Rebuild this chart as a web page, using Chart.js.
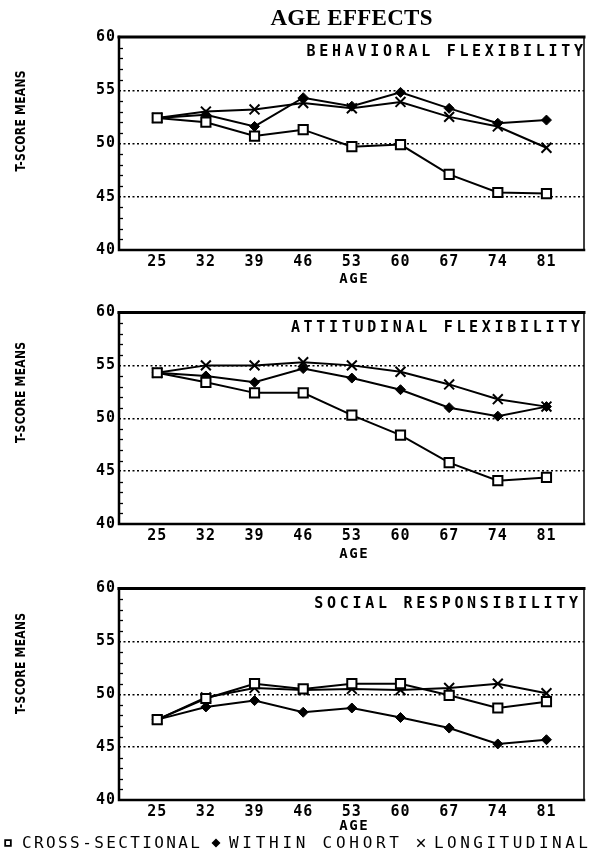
<!DOCTYPE html>
<html><head><meta charset="utf-8">
<script src="https://cdn.jsdelivr.net/npm/chart.js@4.4.1/dist/chart.umd.min.js"></script>
<style>
html,body{margin:0;padding:0;background:#fff;}
#wrap{position:relative;width:593px;height:854px;overflow:hidden;background:#fff;}
canvas{position:absolute;left:0;}
</style></head><body>
<div id="wrap">
<canvas id="c1" width="593" height="290" style="top:0px"></canvas>
<canvas id="c2" width="593" height="270" style="top:290px"></canvas>
<canvas id="c3" width="593" height="294" style="top:560px"></canvas>
</div>
<script>
// ---- data ----
const ages = [25, 32, 39, 46, 53, 60, 67, 74, 81];
const yTicks = [40, 45, 50, 55, 60];
const gridValues = [45, 50, 55];
const seriesNames = ['CROSS-SECTIONAL', 'WITHIN COHORT', 'LONGITUDINAL'];
const panelTitles = ['BEHAVIORAL FLEXIBILITY', 'ATTITUDINAL FLEXIBILITY', 'SOCIAL RESPONSIBILITY'];
const mainTitle = 'AGE EFFECTS';
const yTitle = 'T-SCORE MEANS';
const xTitle = 'AGE';

const behavCross  = [52.4, 52.0, 50.7, 51.3, 49.7, 49.9, 47.1, 45.4, 45.3];
const behavWithin = [52.4, 52.7, 51.6, 54.3, 53.5, 54.8, 53.3, 51.9, 52.2];
const behavLong   = [52.4, 53.0, 53.2, 53.8, 53.3, 53.9, 52.5, 51.6, 49.6];

const attCross  = [54.3, 53.4, 52.4, 52.4, 50.3, 48.4, 45.8, 44.1, 44.4];
const attWithin = [54.3, 54.0, 53.4, 54.7, 53.8, 52.7, 51.0, 50.2, 51.1];
const attLong   = [54.3, 55.0, 55.0, 55.3, 55.0, 54.4, 53.2, 51.8, 51.1];

const socCross  = [47.6, 49.6, 51.0, 50.5, 51.0, 51.0, 49.9, 48.7, 49.3];
const socWithin = [47.6, 48.8, 49.4, 48.3, 48.7, 47.8, 46.8, 45.3, 45.7];
const socLong   = [47.6, 49.7, 50.6, 50.4, 50.5, 50.4, 50.6, 51.0, 50.1];

// ---- styles ----
const MONO = '"DejaVu Sans Mono", monospace';
const seriesStyles = [
  {pointStyle: 'rect', pointRadius: 6.5, pointBackgroundColor: '#fff', pointBorderWidth: 2},
  {pointStyle: 'rectRot', pointRadius: 5, pointBackgroundColor: '#000', pointBorderWidth: 1},
  {pointStyle: 'crossRot', pointRadius: 7, pointBackgroundColor: '#000', pointBorderWidth: 2}
];

function drawSpaced(ctx, text, x, y, align, spacing) {
  ctx.letterSpacing = spacing + 'px';
  let w = ctx.measureText(text).width;
  let sx = x;
  if (align === 'right') sx = x - w + spacing;
  else if (align === 'center') sx = x - (w - spacing) / 2;
  ctx.textAlign = 'left';
  ctx.fillText(text, sx, y);
  ctx.letterSpacing = '0px';
}
function drawFit(ctx, text, x, y, width) {
  ctx.letterSpacing = '0px';
  const w0 = ctx.measureText(text).width;
  const sp = (width - w0) / (text.length - 1);
  ctx.letterSpacing = sp + 'px';
  ctx.textAlign = 'left';
  ctx.fillText(text, x, y);
  ctx.letterSpacing = '0px';
}

const decoPlugin = {
  id: 'deco',
  beforeDraw(chart) {
    chart.ctx.letterSpacing = '1px';
  },
  afterDraw(chart, args, o) {
    const ctx = chart.ctx, a = chart.chartArea, ys = chart.scales.y;
    ctx.save();
    ctx.letterSpacing = '0px';
    ctx.strokeStyle = '#000';
    ctx.fillStyle = '#000';
    // minor ticks on the y axis (inside)
    ctx.lineWidth = 1.3;
    for (let v = 41; v < 60; v++) {
      if (v % 5 === 0) continue;
      const py = Math.round(ys.getPixelForValue(v)) + 0.5;
      ctx.beginPath(); ctx.moveTo(a.left, py); ctx.lineTo(a.left + 4, py); ctx.stroke();
    }
    // frame
    ctx.lineCap = 'square';
    ctx.lineWidth = 3;
    ctx.beginPath(); ctx.moveTo(a.left, a.top); ctx.lineTo(a.right, a.top); ctx.stroke();
    ctx.lineWidth = 2.5;
    ctx.beginPath(); ctx.moveTo(a.left, a.top); ctx.lineTo(a.left, a.bottom); ctx.lineTo(a.right, a.bottom); ctx.stroke();
    ctx.lineWidth = 1.5;
    ctx.beginPath(); ctx.moveTo(a.right, a.top); ctx.lineTo(a.right, a.bottom); ctx.stroke();

    // panel title
    ctx.font = 'bold 15px ' + MONO;
    ctx.textBaseline = 'alphabetic';
    drawSpaced(ctx, o.title, o.titleRight, a.top + 19, 'right', 3.7);

    // x title
    ctx.font = 'bold 14px ' + MONO;
    ctx.textBaseline = 'middle';
    drawSpaced(ctx, xTitle, (a.left + a.right) / 2 + 2, a.bottom + o.ageOffset, 'center', 1.5);

    // y title (rotated)
    ctx.save();
    ctx.translate(21, a.top + o.yTitleOffset);
    ctx.rotate(-Math.PI / 2);
    ctx.scale(0.86, 1);
    ctx.font = 'bold 14px "DejaVu Sans Condensed", sans-serif';
    ctx.textBaseline = 'middle';
    drawSpaced(ctx, yTitle, 0, 0, 'center', 0.3);
    ctx.restore();

    // main title
    if (o.main) {
      ctx.font = 'bold 23px "Liberation Serif", serif';
      ctx.textBaseline = 'alphabetic';
      drawSpaced(ctx, mainTitle, (a.left + a.right) / 2, 25, 'center', 0.3);
    }

    // legend
    if (o.legend) {
      const ly = a.bottom + 43;
      const items = [
        {mx: 8, tx: 22, tw: 178},
        {mx: 216, tx: 229, tw: 170},
        {mx: 421, tx: 434, tw: 154}
      ];
      ctx.font = '16px ' + MONO;
      ctx.textBaseline = 'middle';
      chart.data.datasets.forEach((ds, i) => {
        const it = items[i];
        const st = seriesStyles[i];
        const r = i === 0 ? 4 : (i === 1 ? 3.5 : 4.5);
        ctx.fillStyle = st.pointBackgroundColor;
        ctx.strokeStyle = '#000';
        ctx.lineWidth = i === 0 ? 1.8 : 1.4;
        Chart.helpers.drawPoint(ctx, {pointStyle: st.pointStyle, radius: r, borderWidth: ctx.lineWidth, rotation: 0}, it.mx, ly);
        ctx.fillStyle = '#000';
        drawFit(ctx, ds.label, it.tx, ly + 1, it.tw);
      });
    }
    ctx.restore();
  }
};

function makeChart(id, values, opts) {
  const datasets = values.map((vals, i) => Object.assign({
    label: seriesNames[i],
    data: ages.map((age, j) => ({x: age, y: vals[j]})),
    borderColor: '#000',
    pointBorderColor: '#000',
    borderWidth: 2,
    tension: 0,
    fill: false
  }, seriesStyles[i]));
  return new Chart(document.getElementById(id), {
    type: 'line',
    data: {datasets},
    options: {
      responsive: false,
      animation: false,
      events: [],
      layout: {padding: {top: opts.top, right: 2, left: 0, bottom: 0}},
      plugins: {
        legend: {display: false},
        tooltip: {enabled: false},
        title: {display: false},
        deco: opts
      },
      scales: {
        x: {
          type: 'linear',
          min: 19.5,
          max: 86.4,
          afterBuildTicks: s => { s.ticks = ages.map(v => ({value: v})); },
          afterFit: s => { s.height = opts.xh; },
          grid: {display: false, drawTicks: false},
          border: {display: false},
          ticks: {padding: 3, color: '#000', maxRotation: 0, autoSkip: false,
                  font: {family: MONO, size: 15, weight: 'bold'}}
        },
        y: {
          type: 'linear',
          min: 40,
          max: 60,
          afterBuildTicks: s => { s.ticks = yTicks.map(v => ({value: v})); },
          afterFit: s => { s.width = 119; },
          grid: {drawTicks: false, lineWidth: 1.4,
                 color: c => (c.tick && gridValues.includes(c.tick.value)) ? '#000' : 'rgba(0,0,0,0)'},
          border: {display: false, dash: [2, 2.5]},
          ticks: {padding: 3, color: '#000', font: {family: MONO, size: 15, weight: 'bold'}}
        }
      }
    },
    plugins: [decoPlugin]
  });
}

makeChart('c1', [behavCross, behavWithin, behavLong],
  {top: 37, xh: 40, title: panelTitles[0], titleRight: 583, yTitleOffset: 84, ageOffset: 29, main: true, legend: false});
makeChart('c2', [attCross, attWithin, attLong],
  {top: 22.5, xh: 36, title: panelTitles[1], titleRight: 580, yTitleOffset: 80, ageOffset: 30, main: false, legend: false});
makeChart('c3', [socCross, socWithin, socLong],
  {top: 28.5, xh: 54, title: panelTitles[2], titleRight: 578, yTitleOffset: 75, ageOffset: 26, main: false, legend: true});
</script>
</body></html>
